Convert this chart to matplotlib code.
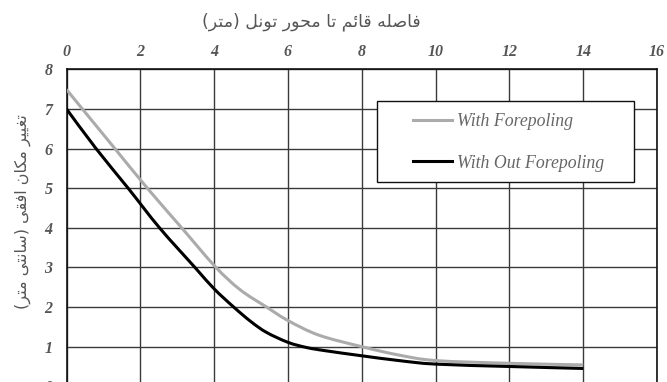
import matplotlib
matplotlib.use("Agg")
import matplotlib.pyplot as plt
from matplotlib.path import Path
from matplotlib.patches import PathPatch, Rectangle
from matplotlib.lines import Line2D
import numpy as np

# ---- data -------------------------------------------------------------
x_with = [0, 0.43, 1.31, 2.19, 3.12, 4.03, 4.7, 5.42, 6.0, 6.84, 8.0, 9.0, 10.0, 12.0, 14.0]
y_with = [7.49, 7.0, 6.0, 5.0, 4.0, 3.02, 2.44, 2.0, 1.66, 1.29, 1.0, 0.79, 0.65, 0.58, 0.54]

x_without = [0, 0.8, 1.67, 2.52, 3.48, 4.0, 4.53, 5.0, 5.42, 6.0, 6.5, 7.0, 8.0, 9.0, 10.0, 12.0, 14.0]
y_without = [7.0, 6.0, 5.0, 4.0, 3.0, 2.46, 2.0, 1.63, 1.36, 1.11, 0.98, 0.9, 0.77, 0.65, 0.56, 0.5, 0.45]

series_labels = ["With Forepoling", "With Out Forepoling"]
series_colors = ["#ababab", "#000000"]
x_ticks = [0, 2, 4, 6, 8, 10, 12, 14, 16]
y_ticks = [0, 1, 2, 3, 4, 5, 6, 7, 8]

x_title = "فاصله قائم تا محور تونل (متر)"
y_title = "تغییر مکان افقی (سانتی متر)"

# ---- minimal Arabic/Persian shaping (matplotlib draws glyphs unshaped) ----
# letter: (isolated, final, initial, medial); two entries = right-joining only
FORMS = {
    "\u0627": ("\uFE8D", "\uFE8E"),
    "\u0626": ("\uFE89", "\uFE8A", "\uFE8B", "\uFE8C"),
    "\u062A": ("\uFE95", "\uFE96", "\uFE97", "\uFE98"),
    "\u062D": ("\uFEA1", "\uFEA2", "\uFEA3", "\uFEA4"),
    "\u0631": ("\uFEAD", "\uFEAE"),
    "\u0633": ("\uFEB1", "\uFEB2", "\uFEB3", "\uFEB4"),
    "\u0635": ("\uFEB9", "\uFEBA", "\uFEBB", "\uFEBC"),
    "\u063A": ("\uFECD", "\uFECE", "\uFECF", "\uFED0"),
    "\u0641": ("\uFED1", "\uFED2", "\uFED3", "\uFED4"),
    "\u0642": ("\uFED5", "\uFED6", "\uFED7", "\uFED8"),
    "\u0644": ("\uFEDD", "\uFEDE", "\uFEDF", "\uFEE0"),
    "\u0645": ("\uFEE1", "\uFEE2", "\uFEE3", "\uFEE4"),
    "\u0646": ("\uFEE5", "\uFEE6", "\uFEE7", "\uFEE8"),
    "\u0647": ("\uFEE9", "\uFEEA", "\uFEEB", "\uFEEC"),
    "\u0648": ("\uFEED", "\uFEEE"),
    "\u06CC": ("\uFBFC", "\uFBFD", "\uFBFE", "\uFBFF"),
    "\u06A9": ("\uFB8E", "\uFB8F", "\uFB90", "\uFB91"),
}
MIRROR = {"(": ")", ")": "("}


def shape_rtl(text):
    chars = list(text)
    out = []
    for i, c in enumerate(chars):
        if c not in FORMS:
            out.append(c)
            continue
        forms = FORMS[c]
        prev = chars[i - 1] if i > 0 else None
        nxt = chars[i + 1] if i + 1 < len(chars) else None
        joins_prev = prev in FORMS and len(FORMS[prev]) == 4
        joins_next = len(forms) == 4 and nxt in FORMS
        if joins_prev and joins_next:
            out.append(forms[3])
        elif joins_prev:
            out.append(forms[1])
        elif joins_next:
            out.append(forms[2])
        else:
            out.append(forms[0])
    return "".join(MIRROR.get(c, c) for c in reversed(out))


def smooth_path(xs, ys):
    """Cubic Bezier path through the points (Catmull-Rom style handles)."""
    p = np.column_stack([xs, ys]).astype(float)
    ext = np.vstack([p[0], p, p[-1]])
    verts = [p[0]]
    codes = [Path.MOVETO]
    for i in range(len(p) - 1):
        p0, p1, p2, p3 = ext[i], ext[i + 1], ext[i + 2], ext[i + 3]
        c1 = p1 + (p2 - p0) / 6.0
        c2 = p2 - (p3 - p1) / 6.0
        verts += [c1, c2, p2]
        codes += [Path.CURVE4] * 3
    return Path(verts, codes)


# ---- figure -------------------------------------------------------------
W, H = 667, 382
fig = plt.figure(figsize=(W / 100, H / 100), dpi=100)
fig.patch.set_facecolor("white")

left_px, right_px, top_px, bottom_px = 66.5, 657.0, 69.3, 386.3
ax = fig.add_axes([left_px / W, (H - bottom_px) / H,
                   (right_px - left_px) / W, (bottom_px - top_px) / H])

ax.set_xlim(0, 16)
ax.set_ylim(0, 8)
ax.set_xticks(x_ticks)
ax.set_yticks(y_ticks)
ax.xaxis.tick_top()
ax.grid(True, color="#3a3a3a", linewidth=1.0)
ax.set_axisbelow(True)
for s in ax.spines.values():
    s.set_color("#111111")
    s.set_linewidth(1.2)

ax.tick_params(axis="both", length=0)
ax.tick_params(axis="x", pad=7)
ax.tick_params(axis="y", pad=10)
for lab in ax.get_xticklabels() + ax.get_yticklabels():
    lab.set_fontfamily("Liberation Serif")
    lab.set_fontstyle("italic")
    lab.set_fontweight("bold")
    lab.set_fontsize(11.5)
    lab.set_color("#555555")

for xs, ys, col in [(x_with, y_with, series_colors[0]),
                    (x_without, y_without, series_colors[1])]:
    ax.add_patch(PathPatch(smooth_path(xs, ys), fill=False, edgecolor=col,
                           linewidth=2.2, capstyle="butt", zorder=3))

# legend box
ax.add_patch(Rectangle((376.7 / W, 1 - 181.7 / H), (634 - 376.7) / W, 81 / H,
                       transform=fig.transFigure, facecolor="white",
                       edgecolor="#111111", linewidth=1.0, zorder=4, clip_on=False))
handles = [Line2D([], [], color=c, linewidth=2.2) for c in series_colors]
leg = ax.legend(handles, series_labels, loc="upper left",
                bbox_to_anchor=(412.7 / W, 1 - 113.5 / H),
                bbox_transform=fig.transFigure,
                frameon=False, handlelength=2.2, handletextpad=0.3,
                labelspacing=1.35, borderpad=0, borderaxespad=0,
                prop=dict(family="Liberation Serif", style="italic", size=12.8))
for t in leg.get_texts():
    t.set_color("#666666")
leg.set_zorder(5)

arabic_font = ["DejaVu Sans", "Noto Sans"]
fig.text(311 / W, 1 - 21.5 / H, shape_rtl(x_title), ha="center", va="center",
         fontsize=12.5, color="#555555", family=arabic_font)
fig.text(23 / W, 1 - 212 / H, shape_rtl(y_title), ha="center", va="center",
         rotation=90, fontsize=11.5, color="#555555", family=arabic_font)

fig.savefig("out.png", dpi=100, facecolor="white")
